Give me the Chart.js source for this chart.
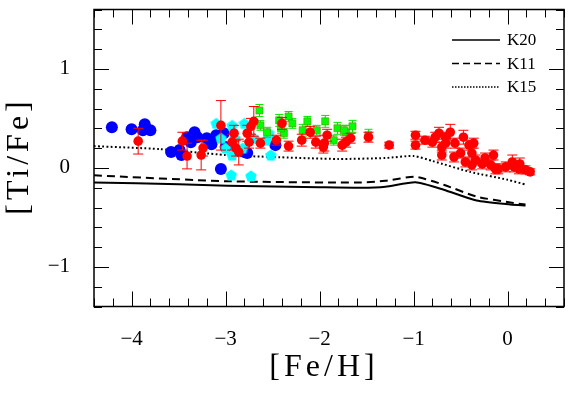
<!DOCTYPE html>
<html>
<head>
<meta charset="utf-8">
<script src="https://cdn.jsdelivr.net/npm/chart.js@4.4.0/dist/chart.umd.min.js"></script>
<style>
  html, body { margin: 0; padding: 0; background: #fff; }
  #wrap { width: 570px; height: 394px; }
</style>
</head>
<body>
<div id="wrap"><canvas id="chart"></canvas></div>
<script>
// Axis ranges and labelled ticks
const xRange = [-4.4, 0.6];
const yRange = [-1.4, 1.6];
const xLabels = [-4, -3, -2, -1, 0];
const yLabels = [-1, 0, 1];
const xTitle = '[Fe/H]';
const yTitle = '[Ti/Fe]';

// Blue circles
const blueFeH  = [-4.21, -4.00, -3.86, -3.80, -3.88, -3.58, -3.49, -3.47, -3.41, -3.33, -3.30, -3.37, -3.20, -3.15, -3.10, -3.05, -3.02, -3.00, -2.80, -2.77, -2.47];
const blueTiFe = [0.41, 0.39, 0.44, 0.38, 0.38, 0.16, 0.18, 0.13, 0.31, 0.36, 0.31, 0.26, 0.30, 0.24, 0.33, -0.01, 0.35, 0.21, 0.16, 0.15, 0.23];

// Cyan pentagons
const cyanFeH  = [-3.10, -3.05, -3.00, -2.93, -2.80, -2.93, -2.82, -2.57, -2.54, -2.52, -2.94, -2.73, -2.90, -2.70];
const cyanTiFe = [0.45, 0.30, 0.20, 0.43, 0.45, 0.13, 0.20, 0.28, 0.35, 0.13, -0.07, -0.08, 0.30, 0.30];

// Green squares with error bars
const greenFeH  = [-2.64, -2.63, -2.56, -2.43, -2.38, -2.33, -2.29, -2.18, -2.13, -2.03, -1.94, -1.85, -1.81, -1.72, -2.41, -1.74, -1.65, -1.48];
const greenTiFe = [0.58, 0.43, 0.36, 0.48, 0.35, 0.52, 0.45, 0.38, 0.47, 0.38, 0.47, 0.28, 0.40, 0.36, 0.40, 0.38, 0.42, 0.33];
const greenErr  = [0.06, 0.05, 0.05, 0.06, 0.05, 0.05, 0.05, 0.06, 0.05, 0.05, 0.06, 0.05, 0.06, 0.07, 0.05, 0.05, 0.06, 0.06];

// Red circles with error bars
const redFeH  = [-3.93, -3.46, -3.41, -3.26, -3.24, -3.05, -2.91, -2.93, -2.89, -2.86, -2.77, -2.73, -2.70, -2.75, -2.63, -2.46, -2.33, -2.40, -2.19, -2.10, -2.04, -1.95, -1.92, -1.96, -1.76, -1.72, -1.67, -1.48, -1.26,
                 -0.98, -0.98, -0.88, -0.80, -0.73, -0.66, -0.61, -0.70, -0.70, -0.57, -0.56, -0.47, -0.41, -0.36, -0.38, -0.45, -0.34, -0.27, -0.24, -0.15, -0.18, -0.10, -0.02, 0.07, 0.12, 0.19, 0.24, 0.05, 0.13, -0.13, -0.38, -0.50, -0.66, -0.77];
const redTiFe = [0.27, 0.27, 0.12, 0.13, 0.20, 0.43, 0.35, 0.26, 0.20, 0.16, 0.35, 0.42, 0.47, 0.26, 0.25, 0.28, 0.22, 0.45, 0.28, 0.36, 0.26, 0.25, 0.33, 0.21, 0.23, 0.26, 0.30, 0.31, 0.23,
                 0.33, 0.23, 0.28, 0.26, 0.35, 0.31, 0.36, 0.21, 0.13, 0.11, 0.25, 0.31, 0.23, 0.25, 0.15, 0.06, 0.08, 0.04, 0.10, 0.13, 0.03, -0.01, 0.01, 0.01, -0.01, -0.02, -0.04, 0.06, 0.04, -0.01, 0.03, 0.15, 0.25, 0.31];
const redErr  = [0.13, 0.09, 0.13, 0.15, 0.08, 0.25, 0.08, 0.08, 0.08, 0.13, 0.08, 0.08, 0.15, 0.06, 0.05, 0.05, 0.05, 0.06, 0.06, 0.06, 0.06, 0.08, 0.06, 0.06, 0.06, 0.05, 0.05, 0.05, 0.03,
                 0.04, 0.04, 0.04, 0.05, 0.06, 0.05, 0.08, 0.05, 0.05, 0.05, 0.05, 0.07, 0.05, 0.05, 0.05, 0.05, 0.05, 0.05, 0.05, 0.05, 0.05, 0.05, 0.05, 0.05, 0.05, 0.04, 0.03, 0.07, 0.06, 0.05, 0.05, 0.05, 0.05, 0.05];

// Model tracks
const modelNames = ['K20', 'K11', 'K15'];
const k20FeH  = [-4.4, -3.5, -2.98, -2.0, -1.56, -1.3, -0.98, -0.68, -0.33, 0.03, 0.19];
const k20TiFe = [-0.148, -0.165, -0.18, -0.195, -0.20, -0.19, -0.145, -0.22, -0.33, -0.37, -0.38];
const k11FeH  = [-4.4, -2.98, -1.56, -1.3, -0.98, -0.68, -0.33, 0.03, 0.19];
const k11TiFe = [-0.075, -0.135, -0.148, -0.13, -0.09, -0.17, -0.29, -0.35, -0.37];
const k15FeH  = [-4.4, -3.7, -3.0, -2.5, -1.8, -1.3, -1.0, -0.8, -0.4, 0.0, 0.2];
const k15TiFe = [0.22, 0.19, 0.13, 0.11, 0.09, 0.10, 0.12, 0.07, -0.04, -0.12, -0.17];

const FONT = '"Liberation Serif", "Times New Roman", serif';

const toPoints = (xs, ys) => xs.map((x, i) => ({ x, y: ys[i] }));
const fmt = v => (v < 0 ? '\u2212' + Math.abs(v) : String(v));

// pentagon marker (no built-in point style for it)
const makePentagon = (size, color) => {
  const c = document.createElement('canvas');
  c.width = c.height = size;
  const g = c.getContext('2d');
  const r = size / 2;
  g.beginPath();
  for (let k = 0; k < 5; k++) {
    const a = -Math.PI / 2 + k * 2 * Math.PI / 5;
    const px = r + r * Math.cos(a);
    const py = r * 1.1 + r * Math.sin(a);
    if (k === 0) g.moveTo(px, py); else g.lineTo(px, py);
  }
  g.closePath();
  g.fillStyle = color;
  g.fill();
  return c;
};

// error bars, drawn just before their own dataset
const errorBars = {
  id: 'errorBars',
  beforeDatasetDraw(chart, args) {
    const ds = chart.data.datasets[args.index];
    if (!ds.errors) return;
    const yScale = chart.scales.y;
    const ctx = chart.ctx;
    ctx.save();
    ctx.strokeStyle = ds.errorColor;
    ctx.lineWidth = 1;
    args.meta.data.forEach((pt, i) => {
      const v = ds.data[i].y;
      const e = ds.errors[i];
      const top = yScale.getPixelForValue(v + e);
      const bot = yScale.getPixelForValue(v - e);
      const w = ds.capWidth;
      ctx.beginPath();
      ctx.moveTo(pt.x, top); ctx.lineTo(pt.x, bot);
      ctx.moveTo(pt.x - w, top); ctx.lineTo(pt.x + w, top);
      ctx.moveTo(pt.x - w, bot); ctx.lineTo(pt.x + w, bot);
      ctx.stroke();
    });
    ctx.restore();
  }
};

// box with inward ticks on all four sides, plus the axis titles
const frameTicks = {
  id: 'frameTicks',
  afterDraw(chart) {
    const { ctx, chartArea: a, scales } = chart;
    ctx.save();
    ctx.strokeStyle = '#000';
    ctx.lineWidth = 1;
    ctx.beginPath();
    for (let i = Math.round(xRange[0] * 5); i <= Math.round(xRange[1] * 5); i++) {
      const len = i % 5 === 0 ? 15 : 8;
      const px = Math.round(scales.x.getPixelForValue(i / 5)) + 0.5;
      ctx.moveTo(px, a.bottom); ctx.lineTo(px, a.bottom - len);
      ctx.moveTo(px, a.top); ctx.lineTo(px, a.top + len);
    }
    for (let i = Math.round(yRange[0] * 5); i <= Math.round(yRange[1] * 5); i++) {
      const len = i % 5 === 0 ? 15 : 8;
      const py = Math.round(scales.y.getPixelForValue(i / 5)) + 0.5;
      ctx.moveTo(a.left, py); ctx.lineTo(a.left + len, py);
      ctx.moveTo(a.right, py); ctx.lineTo(a.right - len, py);
    }
    ctx.stroke();
    ctx.lineWidth = 1.5;
    ctx.strokeRect(a.left, a.top, a.right - a.left, a.bottom - a.top);

    // titles, spaced out like the original
    ctx.fillStyle = '#000';
    ctx.font = '32px ' + FONT;
    ctx.textAlign = 'center';
    ctx.textBaseline = 'middle';
    ctx.letterSpacing = '4px';
    ctx.fillText(xTitle, 324, 368);
    ctx.translate(20, (a.top + a.bottom) / 2);
    ctx.rotate(-Math.PI / 2);
    ctx.fillText(yTitle, 2, 0);
    ctx.restore();
  }
};

// legend in the upper right corner
const modelLegend = {
  id: 'modelLegend',
  afterDraw(chart) {
    const ctx = chart.ctx;
    const dashes = [[], [7, 4], [1.5, 1.5]];
    ctx.save();
    ctx.font = '17px ' + FONT;
    ctx.textBaseline = 'middle';
    ctx.fillStyle = '#000';
    modelNames.forEach((name, i) => {
      const y = 40 + i * 23.5;
      ctx.strokeStyle = '#000';
      ctx.lineWidth = 1.3;
      ctx.setLineDash(dashes[i]);
      ctx.beginPath();
      ctx.moveTo(452, y); ctx.lineTo(500, y);
      ctx.stroke();
      ctx.setLineDash([]);
      ctx.fillText(name, 507, y + 1);
    });
    ctx.restore();
  }
};

const lineDs = (label, xs, ys, dash, width, order) => ({
  label,
  data: toPoints(xs, ys),
  showLine: true,
  borderColor: '#000',
  borderWidth: width,
  borderDash: dash,
  pointRadius: 0,
  fill: false,
  tension: 0.2,
  order
});

// keep the plot box exactly where the original has it
const fixBox = size => scale => {
  if (scale.isHorizontal()) scale.height = size; else scale.width = size;
  scale.paddingLeft = scale.paddingRight = scale.paddingTop = scale.paddingBottom = 0;
};

new Chart(document.getElementById('chart'), {
  type: 'scatter',
  data: {
    datasets: [
      {
        label: 'red',
        data: toPoints(redFeH, redTiFe),
        errors: redErr, errorColor: '#ff0000', capWidth: 5,
        pointStyle: 'circle', pointRadius: 4.8,
        backgroundColor: '#ff0000', borderWidth: 0,
        order: 0
      },
      {
        label: 'green',
        data: toPoints(greenFeH, greenTiFe),
        errors: greenErr, errorColor: '#00e600', capWidth: 4,
        pointStyle: 'rect', pointRadius: 5,
        backgroundColor: '#00ff00', borderColor: '#6a8a00', borderWidth: 0.6,
        order: 1
      },
      {
        label: 'cyan',
        data: toPoints(cyanFeH, cyanTiFe),
        pointStyle: makePentagon(12, '#00ffff'),
        order: 2
      },
      {
        label: 'blue',
        data: toPoints(blueFeH, blueTiFe),
        pointStyle: 'circle', pointRadius: 6,
        backgroundColor: '#0000ff', borderWidth: 0,
        order: 3
      },
      lineDs('K20', k20FeH, k20TiFe, [], 2, 4),
      lineDs('K11', k11FeH, k11TiFe, [8, 5], 2, 5),
      lineDs('K15', k15FeH, k15TiFe, [1.8, 2.4], 2, 6)
    ]
  },
  options: {
    responsive: true,
    maintainAspectRatio: false,
    animation: false,
    layout: { padding: { top: 9.5, right: 5, left: 0, bottom: 0 } },
    plugins: {
      legend: { display: false },
      tooltip: { enabled: false }
    },
    scales: {
      x: {
        type: 'linear',
        min: xRange[0],
        max: xRange[1],
        grid: { display: false },
        border: { display: false },
        afterBuildTicks: scale => { scale.ticks = xLabels.map(value => ({ value })); },
        afterFit: fixBox(87.5),
        ticks: {
          padding: 12,
          color: '#000',
          font: { family: FONT, size: 21 },
          callback: v => fmt(v)
        }
      },
      y: {
        type: 'linear',
        min: yRange[0],
        max: yRange[1],
        grid: { display: false },
        border: { display: false },
        afterBuildTicks: scale => { scale.ticks = yLabels.map(value => ({ value })); },
        afterFit: fixBox(94),
        ticks: {
          padding: 16,
          color: '#000',
          font: { family: FONT, size: 21 },
          callback: v => fmt(v)
        }
      }
    }
  },
  plugins: [errorBars, frameTicks, modelLegend]
});
</script>
</body>
</html>
